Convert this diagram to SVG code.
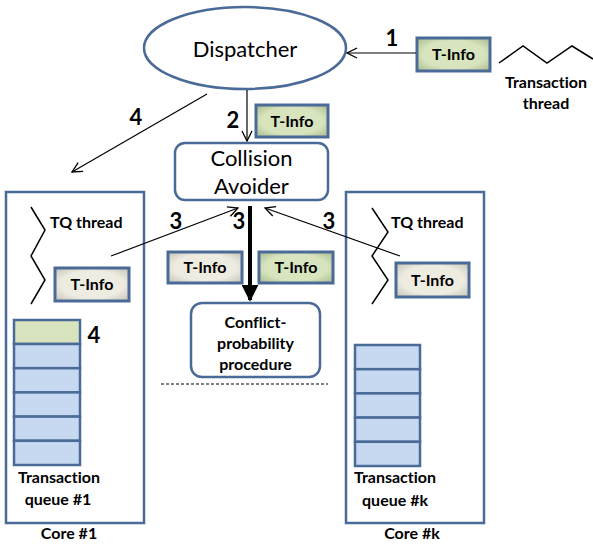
<svg xmlns="http://www.w3.org/2000/svg" width="593" height="544" viewBox="0 0 593 544">
  <style>
    text { font-family: Lato, "Liberation Sans", sans-serif; fill: #000; font-variant-ligatures: none; }
    .lbl { font-size: 16px; font-weight: bold; text-anchor: middle; }
    .lbl-start { font-size: 16px; font-weight: bold; text-anchor: start; }
    .big { font-size: 22px; text-anchor: middle; }
    .num { font-size: 22px; font-weight: bold; text-anchor: middle; }
    .frame { fill: #fff; stroke: #4a6a98; stroke-width: 2.5; }
    .tinfo-g { fill: url(#gGreen); stroke: #4a6a98; stroke-width: 3; }
    .tinfo-w { fill: url(#gBeige); stroke: #4a6a98; stroke-width: 3; }
    .cell { fill: #c6d9f1; stroke: #4a6a98; stroke-width: 2.5; }
    .wire { fill: none; stroke: #000; stroke-width: 1.2; }
    .zig { fill: none; stroke: #000; stroke-width: 1.5; }
  </style>
  <defs>
    <radialGradient id="gGreen" cx="50%" cy="50%" r="70%">
      <stop offset="60%" stop-color="#d7e4bd"/>
      <stop offset="100%" stop-color="#a9b98c"/>
    </radialGradient>
    <radialGradient id="gBeige" cx="50%" cy="50%" r="70%">
      <stop offset="60%" stop-color="#eeece1"/>
      <stop offset="100%" stop-color="#c4c1b4"/>
    </radialGradient>
    <marker id="open" viewBox="0 0 12 12" refX="11" refY="6" markerWidth="12" markerHeight="12" markerUnits="userSpaceOnUse" orient="auto">
      <path d="M1,1 L11,6 L1,11" fill="none" stroke="#000" stroke-width="1.3"/>
    </marker>
    <marker id="solid" viewBox="0 0 10 10" refX="9" refY="5" markerWidth="17" markerHeight="17" markerUnits="userSpaceOnUse" orient="auto">
      <path d="M0,0 L10,5 L0,10 Z" fill="#000"/>
    </marker>
  </defs>

  <!-- core frames -->
  <g id="core-1">
    <rect class="frame" x="6" y="192" width="138" height="331"/>
    <text class="lbl" x="69" y="539">Core #1</text>
  </g>
  <g id="core-k">
    <rect class="frame" x="346" y="192" width="138" height="331"/>
    <text class="lbl" x="412" y="539">Core #k</text>
  </g>

  <!-- dispatcher -->
  <g id="dispatcher">
    <ellipse cx="245" cy="48" rx="101" ry="41" fill="#fff" stroke="#4a6a98" stroke-width="2.5"/>
    <text class="big" x="245" y="57" font-size="23">Dispatcher</text>
  </g>

  <!-- incoming transaction -->
  <g id="tinfo-in">
    <rect class="tinfo-g" x="417" y="38" width="73" height="33"/>
    <text class="lbl" x="453.5" y="60">T-Info</text>
  </g>
  <g id="transaction-thread">
    <polyline class="zig" points="499,63 523,46 547,63 572,46 593,59"/>
    <text class="lbl" x="546" y="88">Transaction</text>
    <text class="lbl" x="546" y="109">thread</text>
  </g>

  <!-- dispatched T-Info -->
  <g id="tinfo-dispatch">
    <rect class="tinfo-g" x="256" y="105" width="72" height="32"/>
    <text class="lbl" x="292" y="127">T-Info</text>
  </g>

  <!-- collision avoider -->
  <g id="collision-avoider">
    <rect class="frame" x="175" y="143" width="153" height="57" rx="10"/>
    <text class="big" x="251.5" y="166">Collision</text>
    <text class="big" x="251.5" y="194">Avoider</text>
  </g>

  <!-- T-Info pair sent to the procedure -->
  <g id="tinfo-pair">
    <rect class="tinfo-w" x="168" y="252" width="74" height="31"/>
    <text class="lbl" x="205" y="273">T-Info</text>
    <rect class="tinfo-g" x="259" y="252" width="74" height="31"/>
    <text class="lbl" x="296" y="273">T-Info</text>
  </g>

  <!-- conflict-probability procedure -->
  <g id="conflict-procedure">
    <rect class="frame" x="191" y="303" width="129" height="74" rx="11"/>
    <text class="lbl" x="255.5" y="328">Conflict-</text>
    <text class="lbl" x="255.5" y="349">probability</text>
    <text class="lbl" x="255.5" y="370">procedure</text>
  </g>
  <line id="separator" x1="161" y1="384" x2="328" y2="384" stroke="#000" stroke-width="1" stroke-dasharray="3,2"/>

  <!-- core #1 contents -->
  <g id="tq-thread-1">
    <polyline class="zig" points="31,207 45,230 31,256 45,280 31,304"/>
    <text class="lbl-start" x="50" y="228">TQ thread</text>
  </g>
  <g id="tinfo-core-1">
    <rect class="tinfo-w" x="55" y="268" width="74" height="33"/>
    <text class="lbl" x="92" y="290">T-Info</text>
  </g>
  <g id="queue-1">
    <rect x="14" y="320" width="66" height="24" fill="#d7e4bd" stroke="#4a6a98" stroke-width="2.5"/>
    <rect class="cell" x="14" y="344" width="66" height="24.2"/>
    <rect class="cell" x="14" y="368.2" width="66" height="24.2"/>
    <rect class="cell" x="14" y="392.4" width="66" height="24.2"/>
    <rect class="cell" x="14" y="416.6" width="66" height="24.2"/>
    <rect class="cell" x="14" y="440.8" width="66" height="24.2"/>
    <text class="lbl" x="59" y="483">Transaction</text>
    <text class="lbl" x="58" y="505">queue #1</text>
  </g>

  <!-- core #k contents -->
  <g id="tq-thread-k">
    <polyline class="zig" points="372,208 388,232 372,256 388,280 372,304"/>
    <text class="lbl-start" x="391" y="228">TQ thread</text>
  </g>
  <g id="tinfo-core-k">
    <rect class="tinfo-w" x="396" y="263" width="73" height="34"/>
    <text class="lbl" x="432.5" y="286">T-Info</text>
  </g>
  <g id="queue-k">
    <rect class="cell" x="355" y="345" width="65" height="24.2"/>
    <rect class="cell" x="355" y="369.2" width="65" height="24.2"/>
    <rect class="cell" x="355" y="393.4" width="65" height="24.2"/>
    <rect class="cell" x="355" y="417.6" width="65" height="24.2"/>
    <rect class="cell" x="355" y="441.8" width="65" height="24.2"/>
    <text class="lbl" x="395" y="483">Transaction</text>
    <text class="lbl" x="395" y="506">queue #k</text>
  </g>

  <!-- connectors -->
  <g id="connectors">
    <line class="wire" x1="416" y1="53" x2="347" y2="53" marker-end="url(#open)"/>
    <line class="wire" x1="247" y1="90" x2="247" y2="141" marker-end="url(#open)"/>
    <line class="wire" x1="207" y1="94" x2="72" y2="172" marker-end="url(#open)"/>
    <line class="wire" x1="111" y1="256" x2="238" y2="208" marker-end="url(#open)"/>
    <line class="wire" x1="400" y1="256" x2="265" y2="208" marker-end="url(#open)"/>
    <line x1="250" y1="206" x2="250" y2="300" stroke="#000" stroke-width="4" marker-end="url(#solid)"/>
  </g>

  <!-- step numbers -->
  <g id="steps">
    <text class="num" x="392" y="46">1</text>
    <text class="num" x="233" y="128">2</text>
    <text class="num" x="136" y="125">4</text>
    <text class="num" x="176" y="229">3</text>
    <text class="num" x="239" y="229">3</text>
    <text class="num" x="329" y="229">3</text>
    <text class="num" x="94" y="343">4</text>
  </g>
</svg>
